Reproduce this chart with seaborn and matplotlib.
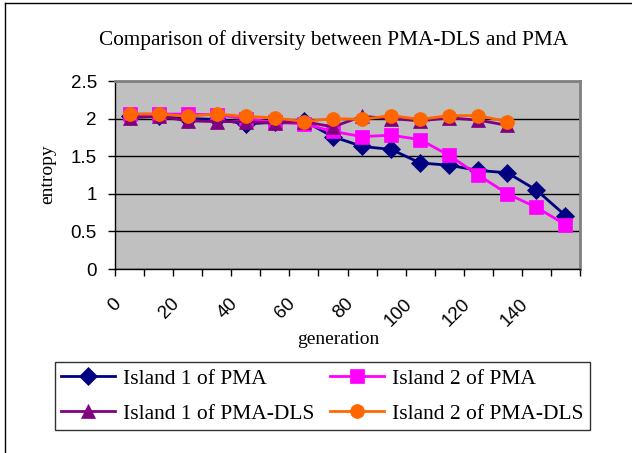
import matplotlib
matplotlib.use("Agg")
import matplotlib.pyplot as plt
from matplotlib.lines import Line2D
from matplotlib.transforms import ScaledTranslation
import seaborn as sns
import pandas as pd
import numpy as np

# ---- data ----
generation = [0, 10, 20, 30, 40, 50, 60, 70, 80, 90, 100, 110, 120, 130, 140, 150]
generation_dls = generation[:14]
island1_pma = [2.03, 2.03, 2.00, 1.99, 1.93, 1.95, 1.97, 1.76, 1.63, 1.59, 1.41, 1.38, 1.31, 1.28, 1.05, 0.71]
island2_pma = [2.06, 2.06, 2.06, 2.05, 2.00, 1.95, 1.93, 1.83, 1.76, 1.78, 1.72, 1.51, 1.25, 1.00, 0.82, 0.59]
island1_dls = [2.01, 2.03, 1.97, 1.96, 1.96, 1.94, 1.96, 1.89, 2.03, 2.00, 1.97, 2.01, 1.98, 1.91]
island2_dls = [2.06, 2.06, 2.03, 2.06, 2.03, 2.01, 1.96, 2.00, 1.99, 2.04, 1.99, 2.04, 2.04, 1.96]
series_names = ["Island 1 of PMA", "Island 2 of PMA", "Island 1 of PMA-DLS", "Island 2 of PMA-DLS"]
y_ticks = [0, 0.5, 1, 1.5, 2, 2.5]
y_tick_labels = ["0", "0.5", "1", "1.5", "2", "2.5"]
x_tick_vals = [0, 20, 40, 60, 80, 100, 120, 140]
x_tick_labels = ["0", "20", "40", "60", "80", "100", "120", "140"]

colors = ["#000080", "#FF00FF", "#800080", "#FF6600"]
markers = ["D", "s", "^", "o"]
msizes = [9, 9.5, 9.5, 10]

W, H = 632, 453
fig = plt.figure(figsize=(W / 100, H / 100), dpi=100)
fig.patch.set_facecolor("white")

def fx(px):
    return px / W

def fy(py):
    return 1 - py / H

L, R, T, B = 115, 580, 81, 269
ax = fig.add_axes([fx(L), fy(B), (R - L) / W, (B - T) / H])
ax.set_facecolor("#C0C0C0")

serif = ["Liberation Serif", "DejaVu Serif"]
sans = ["Liberation Sans", "DejaVu Sans"]

data_sets = [(generation, island1_pma), (generation, island2_pma),
             (generation_dls, island1_dls), (generation_dls, island2_dls)]
for i, ((xs, ys), name) in enumerate(zip(data_sets, series_names)):
    df = pd.DataFrame({"generation": xs, "entropy": ys})
    sns.lineplot(data=df, x="generation", y="entropy", ax=ax, color=colors[i],
                 marker=markers[i], markersize=msizes[i], markeredgecolor=colors[i],
                 markeredgewidth=0.5, linewidth=2.0, label=name, zorder=3 + i)

ax.set_xlim(-5, 155)
ax.set_ylim(0, 2.5)
ax.set_yticks(y_ticks)
ax.set_yticklabels(y_tick_labels, fontfamily=sans, fontsize=13.5)
ax.yaxis.grid(True, color="black", linewidth=1.0)
ax.set_axisbelow(True)

ax.set_xticks(np.arange(-5, 156, 10))
ax.set_xticklabels([])
ax.set_xticks(x_tick_vals, minor=True)
ax.set_xticklabels(x_tick_labels, minor=True, fontfamily=sans, fontsize=13.5,
                   rotation=45, ha="right", va="top")
ax.tick_params(axis="x", which="major", direction="out", length=5, width=1, color="black")
ax.tick_params(axis="x", which="minor", length=0, pad=19)
ax.tick_params(axis="y", direction="out", length=5, width=1, color="black", pad=8)
offset = ScaledTranslation(-5 / 100, 0, fig.dpi_scale_trans)
for lab in ax.get_xticklabels(minor=True):
    lab.set_transform(lab.get_transform() + offset)

for s in ["top", "right"]:
    ax.spines[s].set_color("#808080")
    ax.spines[s].set_linewidth(2)
for s in ["left", "bottom"]:
    ax.spines[s].set_color("black")
    ax.spines[s].set_linewidth(1)

ax.set_xlabel("")
ax.set_ylabel("")
fig.text(fx(338), fy(340), "generation", fontfamily=serif, fontsize=14,
         ha="center", va="center")
fig.text(fx(48), fy(174), "entropy", fontfamily=serif, fontsize=14,
         ha="center", va="center", rotation=90)
fig.text(fx(334), fy(40), "Comparison of diversity between PMA-DLS and PMA",
         fontfamily=serif, fontsize=15.3, ha="center", va="center")

handles, labels = ax.get_legend_handles_labels()
order = [0, 2, 1, 3]
if ax.get_legend():
    ax.get_legend().remove()
leg = fig.legend([handles[k] for k in order], [labels[k] for k in order],
                 ncol=2, loc="upper left", bbox_to_anchor=(fx(55), fy(362)),
                 prop={"family": serif, "size": 15.5}, frameon=True, fancybox=False,
                 edgecolor="black", handlelength=2.5, handletextpad=0.35,
                 columnspacing=0.75, labelspacing=0.7, borderpad=0.3,
                 borderaxespad=0)
leg.get_frame().set_linewidth(1)

# figure border (left and top visible)
fig.add_artist(Line2D([fx(5), fx(5)], [fy(3), 0], color="black", linewidth=1,
                      transform=fig.transFigure))
fig.add_artist(Line2D([fx(5), 1], [fy(3), fy(3)], color="black", linewidth=1,
                      transform=fig.transFigure))

fig.savefig("out.png", dpi=100)
